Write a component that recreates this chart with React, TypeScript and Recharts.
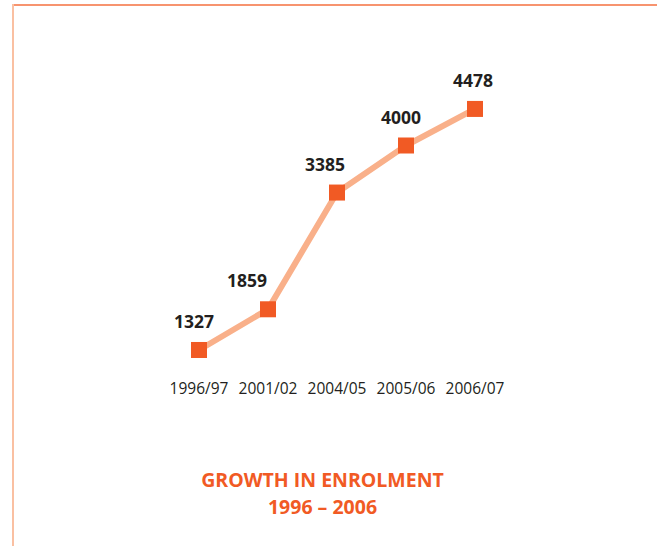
import React from 'react';
import { LineChart, Line, XAxis, YAxis, LabelList } from 'recharts';

const years = ['1996/97', '2001/02', '2004/05', '2005/06', '2006/07'];
const enrolment = [1327, 1859, 3385, 4000, 4478];

const data = years.map((year, i) => ({ year, value: enrolment[i] }));

// small horizontal nudges so labels sit like the original
const labelNudge = [-5, -21, -12, -5, -2];

const SquareDot = (props: any) => {
  const { cx, cy } = props;
  if (cx == null || cy == null) return null;
  return <rect x={cx - 8} y={cy - 8} width={16} height={16} fill="#f15a24" />;
};

const ValueLabel = (props: any) => {
  const { x, y, value, index } = props;
  return (
    <text
      x={x + (labelNudge[index] || 0)}
      y={y - 22}
      textAnchor="middle"
      fontFamily="'Open Sans', sans-serif"
      fontWeight={700}
      fontSize={17.5}
      fill="#231f20"
    >
      {value}
    </text>
  );
};

const App = () => {
  return (
    <div style={{ position: 'absolute', left: 0, top: 0, width: 657, height: 546, background: '#fff' }}>
      <div style={{ position: 'absolute', left: 13, top: 4, width: 644, height: 2, background: '#f7946f' }} />
      <div style={{ position: 'absolute', left: 12, top: 4, width: 2, height: 542, background: '#fac0a2' }} />
      <LineChart width={657} height={546} data={data} margin={{ top: 69, right: 182, bottom: 141, left: 199 }}>
        <XAxis
          dataKey="year"
          tickLine={false}
          axisLine={false}
          height={30}
          tick={{ fill: '#231f20', fontSize: 15.5, fontFamily: "'Open Sans', sans-serif" }}
          interval={0}
        />
        <YAxis hide domain={[1000, 5000]} />
        <Line
          type="linear"
          dataKey="value"
          stroke="#f9b08a"
          strokeWidth={6}
          dot={<SquareDot />}
          activeDot={false}
          isAnimationActive={false}
        >
          <LabelList dataKey="value" content={<ValueLabel />} />
        </Line>
      </LineChart>
      <div
        style={{
          position: 'absolute',
          left: 0,
          top: 466,
          width: 645,
          textAlign: 'center',
          color: '#f15a24',
          fontFamily: "'Open Sans', sans-serif",
          fontWeight: 700,
          fontSize: 19.5,
          lineHeight: '27px',
        }}
      >
        GROWTH IN ENROLMENT
        <br />
        1996 – 2006
      </div>
    </div>
  );
};

export default App;
